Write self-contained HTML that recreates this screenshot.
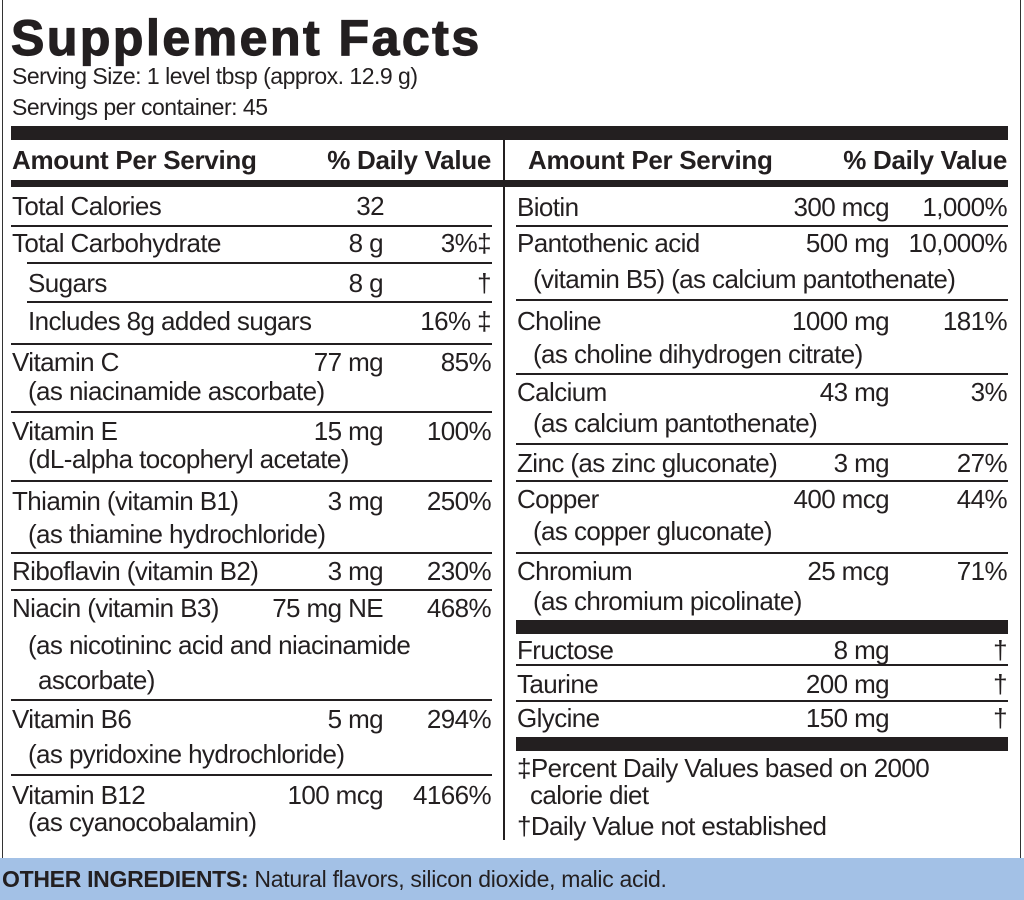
<!DOCTYPE html>
<html><head><meta charset="utf-8"><style>
body{margin:0;width:1024px;height:900px;background:#fff;position:relative;overflow:hidden;font-family:"Liberation Sans",Arial,sans-serif;color:#231f20}
.t{position:absolute;font-size:26px;line-height:28px;white-space:nowrap;letter-spacing:-0.6px}
.r{text-align:right}
.h{position:absolute;background:#231f20}
.b{font-weight:bold}
</style></head><body>
<div style="position:absolute;left:2px;top:-2px;width:1017px;height:859px;border:1.5px solid #333"></div>
<div style="position:absolute;left:0;top:858px;width:1024px;height:42px;background:#a3c1e6"></div>
<div class="t" style="left:2px;top:865px;font-size:23px;letter-spacing:-0.3px"><b>OTHER INGREDIENTS:</b> Natural flavors, silicon dioxide, malic acid.</div>

<div class="t b" style="left:11px;top:10px;font-size:50px;line-height:56px;letter-spacing:2.5px;font-weight:900;-webkit-text-stroke:1.2px #231f20">Supplement Facts</div>
<div class="t" style="left:12px;top:62px;font-size:23px;letter-spacing:-0.5px">Serving Size: 1 level tbsp (approx. 12.9 g)</div>
<div class="t" style="left:12px;top:93px;font-size:23px;letter-spacing:-0.5px">Servings per container: 45</div>

<div class="h" style="left:11px;top:126px;width:997px;height:14px"></div>
<div class="h" style="left:11px;top:180px;width:997px;height:7px"></div>
<div class="h" style="left:503px;top:140px;width:2px;height:700px"></div>

<div class="t b" style="left:12px;top:146px;letter-spacing:-0.3px">Amount Per Serving</div>
<div class="t b r" style="right:533px;top:146px;letter-spacing:-0.3px">% Daily Value</div>
<div class="t b" style="left:528px;top:146px;letter-spacing:-0.3px">Amount Per Serving</div>
<div class="t b r" style="right:17px;top:146px;letter-spacing:-0.3px">% Daily Value</div>

<div class="h" style="left:11px;top:225px;width:481px;height:2px"></div>
<div class="h" style="left:27px;top:262px;width:465px;height:2px"></div>
<div class="h" style="left:27px;top:301px;width:465px;height:2px"></div>
<div class="h" style="left:11px;top:343px;width:481px;height:2px"></div>
<div class="h" style="left:11px;top:411px;width:481px;height:2px"></div>
<div class="h" style="left:11px;top:480px;width:481px;height:2px"></div>
<div class="h" style="left:11px;top:552px;width:481px;height:2px"></div>
<div class="h" style="left:11px;top:589px;width:481px;height:2px"></div>
<div class="h" style="left:11px;top:699px;width:481px;height:2px"></div>
<div class="h" style="left:11px;top:774px;width:481px;height:2px"></div>

<div class="t" style="left:12px;top:192px">Total Calories</div><div class="t r" style="right:640px;top:192px">32</div>
<div class="t" style="left:12px;top:229px">Total Carbohydrate</div><div class="t r" style="right:641px;top:229px">8 g</div><div class="t r" style="right:533px;top:229px">3%‡</div>
<div class="t" style="left:28px;top:269px">Sugars</div><div class="t r" style="right:641px;top:269px">8 g</div><div class="t r" style="right:533px;top:269px">†</div>
<div class="t" style="left:28px;top:307px">Includes 8g added sugars</div><div class="t r" style="right:533px;top:307px">16% ‡</div>
<div class="t" style="left:12px;top:348px">Vitamin C</div><div class="t r" style="right:641px;top:348px">77 mg</div><div class="t r" style="right:533px;top:348px">85%</div>
<div class="t" style="left:28px;top:377px">(as niacinamide ascorbate)</div>
<div class="t" style="left:12px;top:417px">Vitamin E</div><div class="t r" style="right:641px;top:417px">15 mg</div><div class="t r" style="right:533px;top:417px">100%</div>
<div class="t" style="left:28px;top:445px">(dL-alpha tocopheryl acetate)</div>
<div class="t" style="left:12px;top:487px">Thiamin (vitamin B1)</div><div class="t r" style="right:641px;top:487px">3 mg</div><div class="t r" style="right:533px;top:487px">250%</div>
<div class="t" style="left:28px;top:520px">(as thiamine hydrochloride)</div>
<div class="t" style="left:12px;top:557px">Riboflavin (vitamin B2)</div><div class="t r" style="right:641px;top:557px">3 mg</div><div class="t r" style="right:533px;top:557px">230%</div>
<div class="t" style="left:12px;top:594px">Niacin (vitamin B3)</div><div class="t r" style="right:641px;top:594px">75 mg NE</div><div class="t r" style="right:533px;top:594px">468%</div>
<div class="t" style="left:28px;top:631px">(as nicotininc acid and niacinamide</div>
<div class="t" style="left:38px;top:666px">ascorbate)</div>
<div class="t" style="left:12px;top:705px">Vitamin B6</div><div class="t r" style="right:641px;top:705px">5 mg</div><div class="t r" style="right:533px;top:705px">294%</div>
<div class="t" style="left:28px;top:740px">(as pyridoxine hydrochloride)</div>
<div class="t" style="left:12px;top:781px">Vitamin B12</div><div class="t r" style="right:641px;top:781px">100 mcg</div><div class="t r" style="right:533px;top:781px">4166%</div>
<div class="t" style="left:28px;top:808px">(as cyanocobalamin)</div>

<div class="h" style="left:516px;top:225px;width:492px;height:2px"></div>
<div class="h" style="left:516px;top:299px;width:492px;height:2px"></div>
<div class="h" style="left:516px;top:373px;width:492px;height:2px"></div>
<div class="h" style="left:516px;top:443px;width:492px;height:2px"></div>
<div class="h" style="left:516px;top:480px;width:492px;height:2px"></div>
<div class="h" style="left:516px;top:552px;width:492px;height:2px"></div>
<div class="h" style="left:516px;top:620px;width:492px;height:14px"></div>
<div class="h" style="left:516px;top:664px;width:492px;height:2px"></div>
<div class="h" style="left:516px;top:700px;width:492px;height:2px"></div>
<div class="h" style="left:516px;top:737px;width:492px;height:14px"></div>

<div class="t" style="left:517px;top:193px">Biotin</div><div class="t r" style="right:135px;top:193px">300 mcg</div><div class="t r" style="right:17px;top:193px">1,000%</div>
<div class="t" style="left:517px;top:229px">Pantothenic acid</div><div class="t r" style="right:135px;top:229px">500 mg</div><div class="t r" style="right:17px;top:229px">10,000%</div>
<div class="t" style="left:533px;top:265px">(vitamin B5) (as calcium pantothenate)</div>
<div class="t" style="left:517px;top:307px">Choline</div><div class="t r" style="right:135px;top:307px">1000 mg</div><div class="t r" style="right:17px;top:307px">181%</div>
<div class="t" style="left:533px;top:340px">(as choline dihydrogen citrate)</div>
<div class="t" style="left:517px;top:378px">Calcium</div><div class="t r" style="right:135px;top:378px">43 mg</div><div class="t r" style="right:17px;top:378px">3%</div>
<div class="t" style="left:533px;top:409px">(as calcium pantothenate)</div>
<div class="t" style="left:517px;top:449px">Zinc (as zinc gluconate)</div><div class="t r" style="right:135px;top:449px">3 mg</div><div class="t r" style="right:17px;top:449px">27%</div>
<div class="t" style="left:517px;top:485px">Copper</div><div class="t r" style="right:135px;top:485px">400 mcg</div><div class="t r" style="right:17px;top:485px">44%</div>
<div class="t" style="left:533px;top:517px">(as copper gluconate)</div>
<div class="t" style="left:517px;top:557px">Chromium</div><div class="t r" style="right:135px;top:557px">25 mcg</div><div class="t r" style="right:17px;top:557px">71%</div>
<div class="t" style="left:533px;top:587px">(as chromium picolinate)</div>
<div class="t" style="left:517px;top:636px">Fructose</div><div class="t r" style="right:135px;top:636px">8 mg</div><div class="t r" style="right:17px;top:636px">†</div>
<div class="t" style="left:517px;top:670px">Taurine</div><div class="t r" style="right:135px;top:670px">200 mg</div><div class="t r" style="right:17px;top:670px">†</div>
<div class="t" style="left:517px;top:704px">Glycine</div><div class="t r" style="right:135px;top:704px">150 mg</div><div class="t r" style="right:17px;top:704px">†</div>
<div class="t" style="left:517px;top:754px">‡Percent Daily Values based on 2000</div>
<div class="t" style="left:530px;top:781px">calorie diet</div>
<div class="t" style="left:517px;top:812px">†Daily Value not established</div>
</body></html>
